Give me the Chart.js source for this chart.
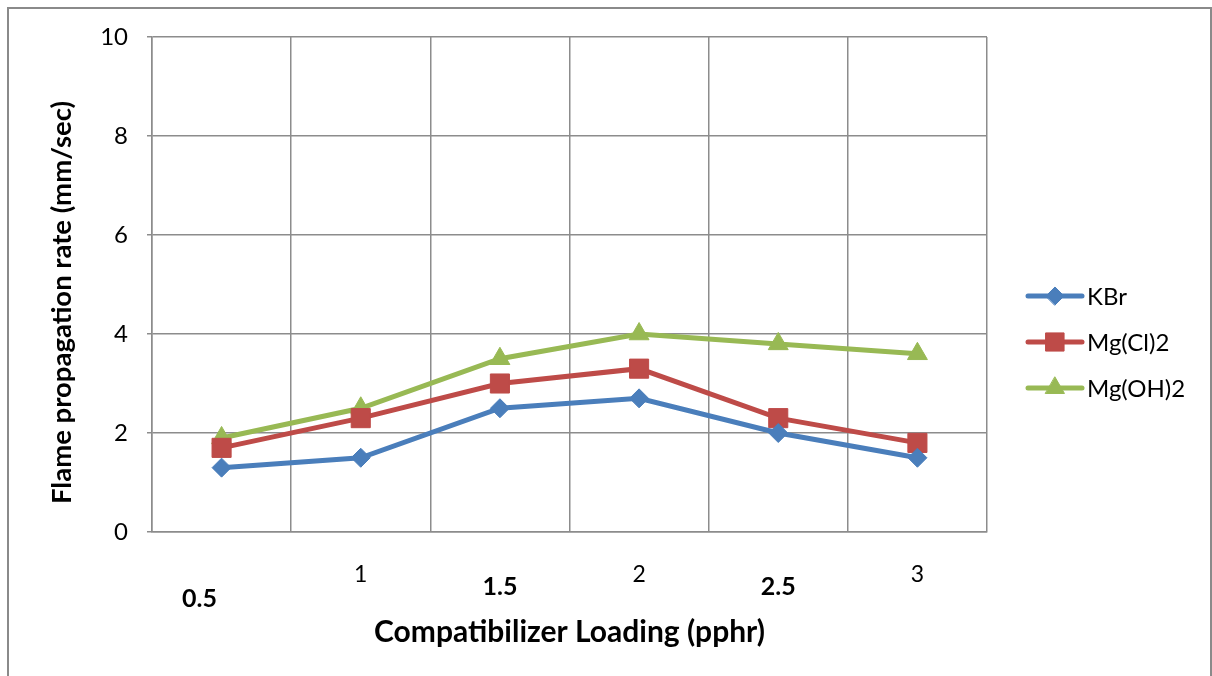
<!DOCTYPE html>
<html>
<head>
<meta charset="utf-8">
<script src="https://cdn.jsdelivr.net/npm/chart.js@4.4.1/dist/chart.umd.min.js"></script>
<style>
  html, body { margin: 0; padding: 0; background: #ffffff; }
  #wrap { position: relative; width: 1212px; height: 676px; }
  canvas { display: block; }
</style>
</head>
<body>
<div id="wrap"><canvas id="c" width="1212" height="676"></canvas></div>
<script>
// ---- data ----
const categories = ["0.5", "1", "1.5", "2", "2.5", "3"];
const kbr      = [1.3, 1.5, 2.5, 2.7, 2.0, 1.5];
const mgcl2    = [1.7, 2.3, 3.0, 3.3, 2.3, 1.8];
const mgoh2    = [1.9, 2.5, 3.5, 4.0, 3.8, 3.6];
const seriesNames = ["KBr", "Mg(Cl)2", "Mg(OH)2"];
const yTicks = [0, 2, 4, 6, 8, 10];
const xTitle = "Compatibilizer Loading (pphr)";
const yTitle = "Flame propagation rate (mm/sec)";

const FONT = "Lato, 'Open Sans', sans-serif";
const BLUE = "#4A7EBB", RED = "#BE4B48", GREEN = "#98B954";

const frame = {
  id: 'frame',
  beforeDraw(chart) {
    const ctx = chart.ctx;
    ctx.save();
    ctx.strokeStyle = '#8a8a8a';
    ctx.lineWidth = 2;
    ctx.beginPath();
    ctx.moveTo(8, 676);
    ctx.lineTo(8, 8);
    ctx.lineTo(1211, 8);
    ctx.lineTo(1211, 676);
    ctx.stroke();
    ctx.restore();
    // shift first category label to the left as in the original
    const xs = chart.scales.x;
    const items = xs.getLabelItems(chart.chartArea);
    if (items && items[0] && !items[0]._shifted) {
      items[0].options.translation[0] -= 22;
      items[0]._shifted = true;
    }
  },
  afterDraw(chart) {
    const ctx = chart.ctx;
    const ca = chart.chartArea;
    ctx.save();
    ctx.translate(62, (ca.top + ca.bottom) / 2 + 18);
    ctx.rotate(-Math.PI / 2);
    ctx.fillStyle = '#000';
    ctx.font = "bold 27.5px " + FONT;
    ctx.textAlign = 'center';
    ctx.textBaseline = 'middle';
    ctx.fillText(yTitle, 0, 0);
    ctx.restore();
  }
};

const legendPlugin = {
  id: 'xlLegend',
  afterDraw(chart) {
    const ctx = chart.ctx;
    const x0 = 1028, x1 = 1082, ys = [296, 342, 388];
    ctx.save();
    chart.data.datasets.forEach((ds, i) => {
      const y = ys[i];
      ctx.strokeStyle = ds.borderColor;
      ctx.lineWidth = 5;
      ctx.lineCap = 'round';
      ctx.beginPath();
      ctx.moveTo(x0, y);
      ctx.lineTo(x1, y);
      ctx.stroke();
      ctx.fillStyle = ds.pointBackgroundColor;
      ctx.strokeStyle = ds.pointBorderColor;
      ctx.lineWidth = 1;
      Chart.helpers.drawPoint(ctx, {
        pointStyle: ds.pointStyle,
        radius: ds.pointRadius * 0.95,
        borderWidth: 1
      }, (x0 + x1) / 2, y);
      ctx.fillStyle = '#000';
      ctx.font = "24px " + FONT;
      ctx.textBaseline = 'middle';
      ctx.textAlign = 'left';
      ctx.fillText(ds.label, 1087, y + 1);
    });
    ctx.restore();
  }
};

const mk = (label, data, color, style, r) => ({
  label, data,
  borderColor: color,
  backgroundColor: color,
  pointBackgroundColor: color,
  pointBorderColor: color,
  pointBorderWidth: 1,
  borderWidth: 5,
  pointStyle: style,
  pointRadius: r,
  pointHoverRadius: r,
  tension: 0,
  fill: false
});

new Chart(document.getElementById('c'), {
  type: 'line',
  data: {
    labels: categories,
    datasets: [
      mk(seriesNames[0], kbr, BLUE, 'rectRot', 9.5),
      mk(seriesNames[1], mgcl2, RED, 'rect', 13.5),
      mk(seriesNames[2], mgoh2, GREEN, 'triangle', 11.5)
    ]
  },
  options: {
    responsive: false,
    animation: false,
    events: [],
    layout: { padding: { top: 37, right: 225, bottom: 0, left: 0 } },
    plugins: { legend: { display: false }, tooltip: { enabled: false } },
    scales: {
      x: {
        type: 'category',
        offset: true,
        grid: { offset: true, color: '#8c8c8c', lineWidth: 1.5, drawTicks: false },
        border: { color: '#8c8c8c', width: 1.5 },
        ticks: {
          padding: 29,
          maxRotation: 0,
          autoSkip: false,
          color: '#000',
          font: (ctx) => {
            const i = ctx.index;
            if (i === 0) return { family: FONT, size: 25, weight: 'bold', lineHeight: '75px' };
            if (i % 2 === 0) return { family: FONT, size: 25, weight: 'bold', lineHeight: '51px' };
            return { family: FONT, size: 23, weight: 'normal', lineHeight: '26.4px' };
          }
        },
        title: {
          display: true,
          text: xTitle,
          color: '#000',
          font: { family: FONT, size: 30, weight: 'bold', lineHeight: 1.2 },
          padding: { top: 0, bottom: 26 }
        },
        afterFit: (s) => { s.height = 676 - 532; }
      },
      y: {
        min: 0,
        max: 10,
        afterBuildTicks: (s) => { s.ticks = yTicks.map(v => ({ value: v })); },
        grid: { color: '#8c8c8c', lineWidth: 1.5, drawTicks: true, tickLength: 5 },
        border: { color: '#8c8c8c', width: 1.5 },
        ticks: {
          padding: 19,
          color: '#000',
          font: { family: FONT, size: 24 }
        },
        title: { display: false },
        afterFit: (s) => { s.width = 152; }
      }
    }
  },
  plugins: [frame, legendPlugin]
});
</script>
</body>
</html>
